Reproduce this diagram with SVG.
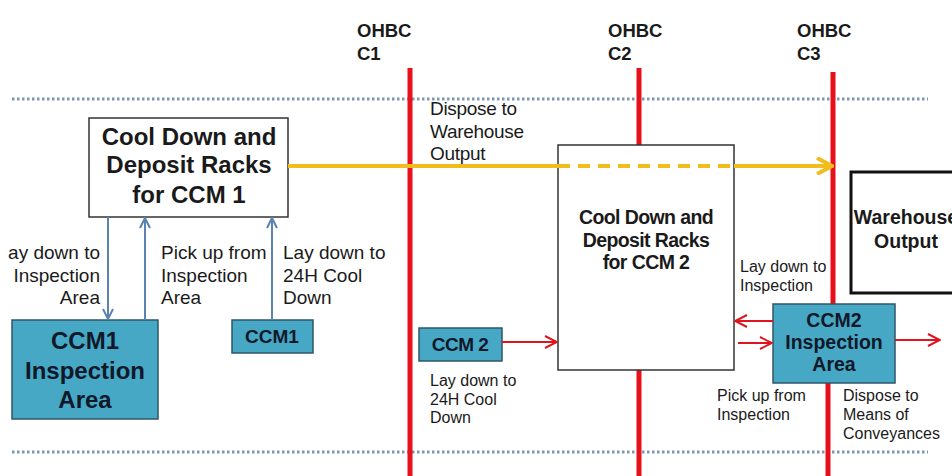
<svg xmlns="http://www.w3.org/2000/svg" width="952" height="476" viewBox="0 0 952 476">
<defs>
<marker id="ab" viewBox="0 0 12 12" refX="11" refY="6" markerWidth="12" markerHeight="12" markerUnits="userSpaceOnUse" orient="auto"><path d="M1,1 L11,6 L1,11" fill="none" stroke="#5b83ad" stroke-width="2"/></marker>
<marker id="ar" viewBox="0 0 14 14" refX="13" refY="7" markerWidth="14" markerHeight="14" markerUnits="userSpaceOnUse" orient="auto"><path d="M1,1 L13,7 L1,13" fill="none" stroke="#e0141c" stroke-width="2"/></marker>
<marker id="ay" viewBox="0 0 18 18" refX="16" refY="9" markerWidth="18" markerHeight="18" markerUnits="userSpaceOnUse" orient="auto"><path d="M1,1 L16,9 L1,17" fill="none" stroke="#f0bd1c" stroke-width="4"/></marker>
</defs>
<style>
.t{font-family:"Liberation Sans",Arial,sans-serif;fill:#1a1a1a}
.b{font-weight:bold}
.dot{stroke:#7d97b3;stroke-width:3;stroke-dasharray:2.5 2.5;fill:none}
.red{stroke:#e8101a;stroke-width:5;fill:none}
.teal{fill:#46a8c4;stroke:#2f5668;stroke-width:1.5}
.wb{fill:#fff;stroke:#333;stroke-width:1.5}
.bl{stroke:#5b83ad;stroke-width:2;fill:none}
.rl{stroke:#e0141c;stroke-width:2;fill:none}
.nt{fill:#10182a}
</style>
<rect width="952" height="476" fill="#fff"/>
<g id="grid">
<line class="dot" x1="12" y1="99" x2="928" y2="99"/>
<line class="dot" x1="12" y1="452" x2="928" y2="452"/>
<line class="red" x1="410" y1="68" x2="410" y2="476"/>
<line class="red" x1="639" y1="68" x2="639" y2="476"/>
<line class="red" x1="833" y1="72" x2="833" y2="304"/>
<line class="red" x1="828" y1="383" x2="828" y2="476"/>
<text class="t b" font-size="18.5"><tspan x="357" y="37">OHBC</tspan><tspan x="357" y="60">C1</tspan></text>
<text class="t b" font-size="18.5"><tspan x="608" y="37">OHBC</tspan><tspan x="608" y="60">C2</tspan></text>
<text class="t b" font-size="18.5"><tspan x="797" y="37">OHBC</tspan><tspan x="797" y="60">C3</tspan></text>
</g>
<g id="racks1">
<rect class="wb" x="89" y="118" width="199" height="99"/>
<text class="t b" font-size="24" text-anchor="middle"><tspan x="189" y="145">Cool Down and</tspan><tspan x="189" y="173">Deposit Racks</tspan><tspan x="189" y="203">for CCM 1</tspan></text>
</g>
<g id="ccm1-inspection">
<rect class="teal" x="12" y="320" width="146" height="99"/>
<text class="t b nt" font-size="24" text-anchor="middle"><tspan x="85" y="349">CCM1</tspan><tspan x="85" y="379">Inspection</tspan><tspan x="85" y="408">Area</tspan></text>
</g>
<g id="ccm1">
<rect class="teal" x="232" y="320" width="81" height="33"/>
<text class="t b nt" font-size="19" text-anchor="middle" x="272" y="343">CCM1</text>
</g>
<g id="racks2">
<rect class="wb" x="558" y="145" width="176" height="225"/>
<text class="t b" font-size="19.5" text-anchor="middle" letter-spacing="-0.6"><tspan x="646" y="224">Cool Down and</tspan><tspan x="646" y="247">Deposit Racks</tspan><tspan x="646" y="269">for CCM 2</tspan></text>
</g>
<g id="ccm2">
<rect class="teal" x="419" y="328" width="83" height="33"/>
<text class="t b nt" font-size="19" text-anchor="middle" letter-spacing="-0.5" x="460" y="351">CCM 2</text>
</g>
<g id="warehouse">
<rect x="851" y="172" width="112" height="121" fill="#fff" stroke="#111" stroke-width="3"/>
<text class="t b" font-size="19.5" text-anchor="middle"><tspan x="906" y="224">Warehouse</tspan><tspan x="906" y="248">Output</tspan></text>
</g>
<g id="ccm2-inspection">
<rect class="teal" x="773" y="304" width="122" height="79"/>
<text class="t b nt" font-size="19.5" text-anchor="middle"><tspan x="834" y="327">CCM2</tspan><tspan x="834" y="349">Inspection</tspan><tspan x="834" y="371">Area</tspan></text>
</g>
<g id="connectors">
<line x1="288" y1="166" x2="558" y2="166" stroke="#f0bd1c" stroke-width="4"/>
<line x1="558" y1="166" x2="734" y2="166" stroke="#f0bd1c" stroke-width="4" stroke-dasharray="12 8"/>
<line x1="734" y1="166" x2="832" y2="166" stroke="#f0bd1c" stroke-width="4" marker-end="url(#ay)"/>
<line class="bl" x1="108" y1="217" x2="108" y2="319" marker-end="url(#ab)"/>
<line class="bl" x1="145" y1="320" x2="145" y2="218" marker-end="url(#ab)"/>
<line class="bl" x1="272" y1="320" x2="272" y2="218" marker-end="url(#ab)"/>
<line class="rl" x1="502" y1="342" x2="557" y2="342" marker-end="url(#ar)"/>
<line class="rl" x1="773" y1="321" x2="735" y2="321" marker-end="url(#ar)"/>
<line class="rl" x1="738" y1="343" x2="772" y2="343" marker-end="url(#ar)"/>
<line class="rl" x1="895" y1="340" x2="940" y2="340" marker-end="url(#ar)"/>
<text class="t" font-size="19" text-anchor="end"><tspan x="100" y="259">ay down to</tspan><tspan x="100" y="282">Inspection</tspan><tspan x="100" y="304">Area</tspan></text>
<text class="t" font-size="19"><tspan x="161" y="259">Pick up from</tspan><tspan x="161" y="282">Inspection</tspan><tspan x="161" y="304">Area</tspan></text>
<text class="t" font-size="19"><tspan x="283" y="259">Lay down to</tspan><tspan x="283" y="282">24H Cool</tspan><tspan x="283" y="304">Down</tspan></text>
<text class="t" font-size="19" letter-spacing="-0.3"><tspan x="430" y="115">Dispose to</tspan><tspan x="430" y="138">Warehouse</tspan><tspan x="430" y="160">Output</tspan></text>
<text class="t" font-size="16"><tspan x="430" y="386">Lay down to</tspan><tspan x="430" y="405">24H Cool</tspan><tspan x="430" y="423">Down</tspan></text>
<text class="t" font-size="16"><tspan x="740" y="272">Lay down to</tspan><tspan x="740" y="291">Inspection</tspan></text>
<text class="t" font-size="16"><tspan x="717" y="401">Pick up from</tspan><tspan x="717" y="420">Inspection</tspan></text>
<text class="t" font-size="16"><tspan x="843" y="401">Dispose to</tspan><tspan x="843" y="420">Means of</tspan><tspan x="843" y="439">Conveyances</tspan></text>
</g>
</svg>
